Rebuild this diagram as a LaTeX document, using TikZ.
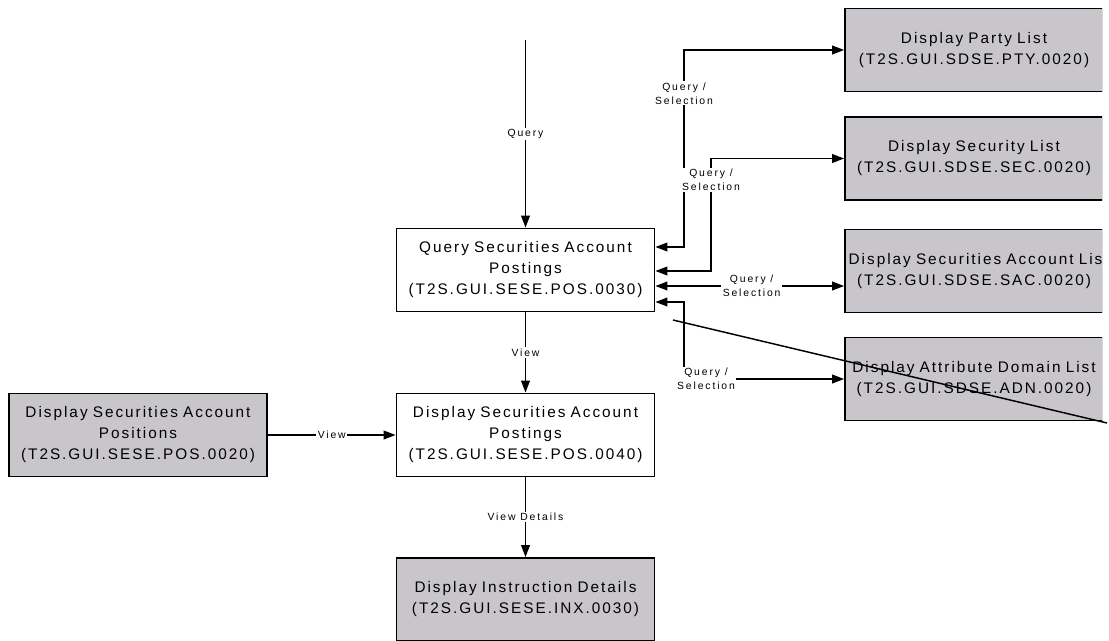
\documentclass[tikz,border=0pt]{standalone}
\usepackage{fontspec}
\setmainfont{Liberation Sans}
\newfontfamily\boxfont[LetterSpace=13]{Liberation Sans}
\newfontfamily\lblfont[LetterSpace=18]{Liberation Sans}
\usetikzlibrary{arrows.meta}
\definecolor{screengray}{RGB}{200,198,202}

\begin{document}
\begin{tikzpicture}[x=0.75pt,y=0.75pt,yscale=-1,xscale=1,
	screen/.style={draw, line width=1.3pt, minimum width=193.5pt, minimum height=62.25pt, text width=188pt, inner xsep=2.75pt, align=center, font=\boxfont\fontsize{11.5}{15.75}\selectfont},
	ext/.style={screen, fill=screengray},
	flow/.style={line width=1.3pt, -{Triangle[length=9pt,width=6.5pt]}},
	both/.style={line width=1.3pt, {Triangle[length=9pt,width=6.5pt]}-{Triangle[length=9pt,width=6.5pt]}},
	lbl/.style={fill=white, inner sep=1pt, align=center, font=\lblfont\fontsize{7.8}{10.5}\selectfont}]
	\useasboundingbox (0,0) rectangle (1109,640);
	\node[screen] (qsap) at (525.5,270) {Query Securities Account\\Postings\\(T2S.GUI.SESE.POS.0030)};
	\node[screen] (dsap) at (525.5,435) {Display Securities Account\\Postings\\(T2S.GUI.SESE.POS.0040)};
	\node[ext] (dinx) at (525.5,599.5) {Display Instruction Details\\(T2S.GUI.SESE.INX.0030)};
	\node[ext] (dsapos) at (138,435) {Display Securities Account\\Positions\\(T2S.GUI.SESE.POS.0020)};
	\begin{scope}
	\clip (830,0) rectangle (1102,640);
	\node[ext] (party) at (974,50) {Display Party List\\(T2S.GUI.SDSE.PTY.0020)};
	\node[ext] (seclist) at (974,158.5) {Display Security List\\(T2S.GUI.SDSE.SEC.0020)};
	\node[ext] (saclist) at (974,271) {\mbox{Display Securities Account List}\\(T2S.GUI.SDSE.SAC.0020)};
	\node[ext] (adnlist) at (974,379) {\mbox{Display Attribute Domain List}\\(T2S.GUI.SDSE.ADN.0020)};
	\end{scope}
	\coordinate (qtop) at (525.5,40);
	\draw[flow] (qtop) -- node[lbl]{Query} (qsap);
	\draw[flow] (qsap) -- node[lbl]{View} (dsap);
	\draw[flow] (dsap) -- node[lbl]{View Details} (dinx);
	\draw[flow] (dsapos) -- node[lbl]{View} (dsap);
	\draw[both] (qsap.east |- 0,247) -- (684,247) |- node[lbl,pos=0.39]{Query /\\Selection} (party.west);
	\draw[both] (qsap.east |- 0,271) -- (711,271) |- node[lbl,pos=0.405]{Query /\\Selection} (seclist.west);
	\draw[both] (qsap.east |- 0,286) -- node[lbl,pos=0.51]{Query /\\Selection} (saclist.west |- 0,286);
	\draw[both] (qsap.east |- 0,302) -- (684,302) |- node[lbl,pos=0.5,xshift=16.5pt]{Query /\\Selection} (adnlist.west);
	\coordinate (s1) at (673,320);
	\coordinate (s2) at (1107,423);
	\draw[line width=1.1pt] (s1) -- (s2);
\end{tikzpicture}
\end{document}
